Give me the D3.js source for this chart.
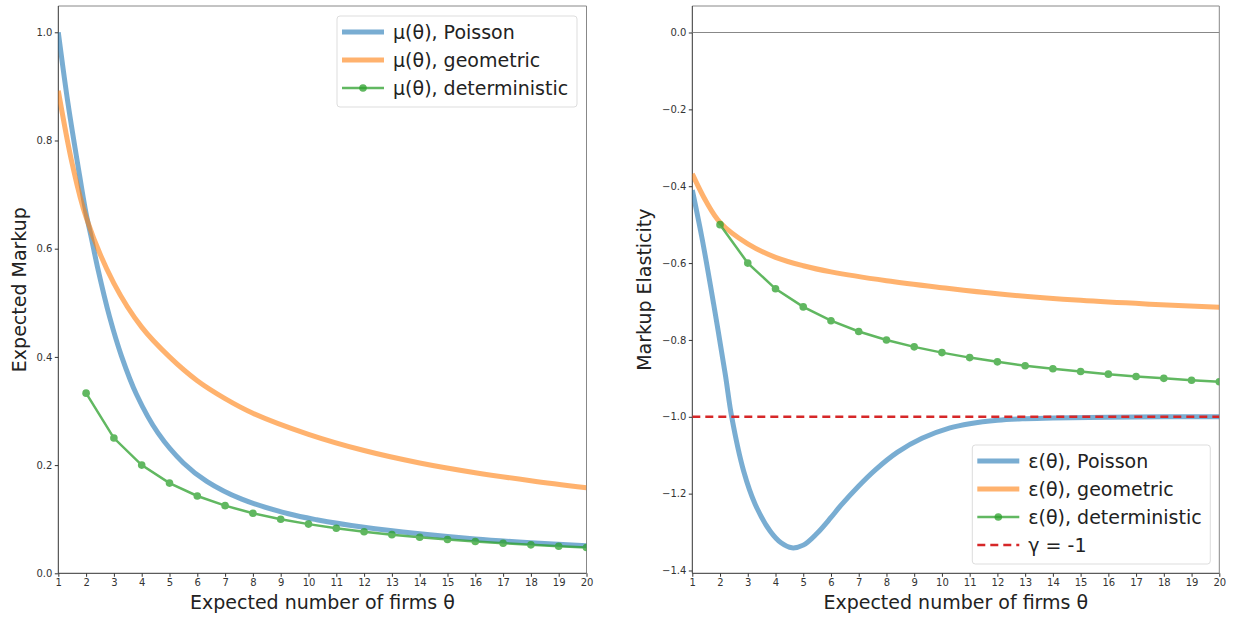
<!DOCTYPE html>
<html>
<head>
<meta charset="utf-8">
<script src="https://cdn.jsdelivr.net/npm/d3@7"></script>
<style>
  body { margin: 0; background: #fff; }
  svg { display: block; font-family: "DejaVu Sans", sans-serif; }
</style>
</head>
<body>
<div id="chart"></div>
<script>
// values
const thetaDet = [2, 3, 4, 5, 6, 7, 8, 9, 10, 11, 12, 13, 14, 15, 16, 17, 18, 19, 20];
const muDet = [0.333, 0.25, 0.2, 0.1667, 0.1429, 0.125, 0.1111, 0.1, 0.0909, 0.0833, 0.0769, 0.0714, 0.0667, 0.0625, 0.0588, 0.0556, 0.0526, 0.05, 0.0476];
const epsDet = [-0.5, -0.6, -0.667, -0.714, -0.75, -0.778, -0.8, -0.818, -0.833, -0.846, -0.857, -0.867, -0.875, -0.882, -0.889, -0.895, -0.9, -0.905, -0.909];

const thetaPoisMu = [1, 1.35, 1.77, 2, 2.19, 2.41, 2.85, 3.27, 3.81, 4.59, 5.5, 6.34, 7.6, 9.28, 10.29, 12, 14, 16, 18, 20];
const muPois = [1.0, 0.868, 0.734, 0.665, 0.62, 0.566, 0.473, 0.402, 0.331, 0.259, 0.204, 0.17, 0.137, 0.11, 0.099, 0.085, 0.073, 0.0635, 0.0565, 0.051];

const thetaGeoMu = [1, 1.5, 2, 3, 4, 5, 6, 7, 8, 10, 12, 14, 16, 18, 20];
const muGeo = [0.892, 0.757, 0.658, 0.536, 0.455, 0.40, 0.356, 0.323, 0.296, 0.257, 0.227, 0.204, 0.186, 0.171, 0.158];

const thetaPoisEps = [1, 1.35, 1.77, 2.19, 2.42, 2.85, 3.27, 3.81, 4.2, 4.59, 5.0, 5.5, 6.0, 6.34, 7.0, 7.6, 8.4, 9.28, 10.29, 11, 12, 13, 14, 16, 18, 20];
const epsPois = [-0.41, -0.535, -0.707, -0.89, -1.0, -1.141, -1.228, -1.298, -1.328, -1.341, -1.334, -1.303, -1.262, -1.232, -1.18, -1.138, -1.092, -1.056, -1.029, -1.018, -1.009, -1.005, -1.003, -1.001, -1.0, -1.0];

const thetaGeoEps = [1, 1.5, 2, 3, 4, 5, 6, 8, 10, 12, 15, 17.5, 20];
const epsGeo = [-0.368, -0.44, -0.494, -0.55, -0.585, -0.607, -0.623, -0.646, -0.664, -0.68, -0.697, -0.707, -0.715];

const xTicks = d3.range(1, 21);
const muTicks = [0, 0.2, 0.4, 0.6, 0.8, 1.0];
const epsTicks = [0, -0.2, -0.4, -0.6, -0.8, -1.0, -1.2, -1.4];
const gamma = -1;

const legendMu = ["μ(θ), Poisson", "μ(θ), geometric", "μ(θ), deterministic"];
const legendEps = ["ε(θ), Poisson", "ε(θ), geometric", "ε(θ), deterministic", "γ = -1"];

const W = 1233, H = 618;
const blue = "#1f77b4", orange = "#ff7f0e", green = "#2ca02c", red = "#d62728";

const svg = d3.select("#chart").append("svg")
    .attr("width", W)
    .attr("height", H);

const plotTop = 6, plotBottom = 573.3;

function panel(left, right, yDomain, yTicks, yFmt, yLabel, yLabelX) {
    const g = svg.append("g");
    const x = d3.scaleLinear().domain([1, 20]).range([left, right]);
    const y = d3.scaleLinear().domain(yDomain).range([plotBottom, plotTop]);

    const clip = "clip" + Math.round(left);
    svg.append("clipPath").attr("id", clip)
        .append("rect").attr("x", left).attr("y", plotTop)
        .attr("width", right - left).attr("height", plotBottom - plotTop);

    const xAxis = g.append("g")
        .attr("transform", `translate(0,${plotBottom})`)
        .call(d3.axisBottom(x).tickValues(xTicks).tickFormat(d3.format("d")).tickSizeOuter(0).tickSize(3.5));
    const yAxis = g.append("g")
        .attr("transform", `translate(${left},0)`)
        .call(d3.axisLeft(y).tickValues(yTicks).tickFormat(yFmt).tickSizeOuter(0).tickSize(3.5));
    [xAxis, yAxis].forEach(a => {
        a.select(".domain").remove();
        a.selectAll("line").attr("stroke", "#333");
        a.selectAll("text").attr("fill", "#333").attr("font-size", "10px")
            .attr("font-family", "DejaVu Sans");
    });
    xAxis.selectAll("text").attr("dy", "0.9em").attr("y", 4);
    yAxis.selectAll("text").attr("x", -6);

    // frame
    g.append("line").attr("x1", left).attr("x2", right).attr("y1", plotTop).attr("y2", plotTop).attr("stroke", "#888");
    g.append("line").attr("x1", right).attr("x2", right).attr("y1", plotTop).attr("y2", plotBottom).attr("stroke", "#888");
    g.append("line").attr("x1", left).attr("x2", left).attr("y1", plotTop).attr("y2", plotBottom).attr("stroke", "#333");
    g.append("line").attr("x1", left).attr("x2", right).attr("y1", plotBottom).attr("y2", plotBottom).attr("stroke", "#333");

    g.append("text")
        .attr("x", (left + right) / 2).attr("y", 609)
        .attr("text-anchor", "middle").attr("font-size", "19px").attr("fill", "#222")
        .text("Expected number of firms θ");
    g.append("text")
        .attr("transform", `translate(${yLabelX},${(plotTop + plotBottom) / 2}) rotate(-90)`)
        .attr("text-anchor", "middle").attr("font-size", "19px").attr("fill", "#222")
        .text(yLabel);

    const plot = svg.append("g").attr("clip-path", `url(#${clip})`);
    return { x, y, plot };
}

function drawCurve(p, xs, ys, color, width, opacity) {
    const line = d3.line().x(d => p.x(d[0])).y(d => p.y(d[1])).curve(d3.curveCatmullRom.alpha(0.5));
    p.plot.append("path")
        .datum(d3.zip(xs, ys))
        .attr("d", line)
        .attr("fill", "none")
        .attr("stroke", color)
        .attr("stroke-width", width)
        .attr("stroke-opacity", opacity)
        .attr("stroke-linejoin", "round");
}

function drawDots(p, xs, ys) {
    const g = p.plot.append("g").attr("opacity", 0.75);
    g.append("path")
        .datum(d3.zip(xs, ys))
        .attr("d", d3.line().x(d => p.x(d[0])).y(d => p.y(d[1])))
        .attr("fill", "none").attr("stroke", green).attr("stroke-width", 2.5);
    g.selectAll("circle").data(d3.zip(xs, ys)).enter().append("circle")
        .attr("cx", d => p.x(d[0])).attr("cy", d => p.y(d[1]))
        .attr("r", 3.8).attr("fill", green);
}

function legend(x0, y0, w, h, labels, styles) {
    const g = svg.append("g");
    g.append("rect").attr("x", x0).attr("y", y0).attr("width", w).attr("height", h)
        .attr("rx", 3).attr("fill", "#fff").attr("fill-opacity", 0.8)
        .attr("stroke", "#ddd");
    labels.forEach((lab, i) => {
        const cy = y0 + 16 + i * 28;
        const s = styles[i];
        const ln = g.append("line").attr("x1", x0 + 5).attr("x2", x0 + 47)
            .attr("y1", cy).attr("y2", cy)
            .attr("stroke", s.color).attr("stroke-width", s.width)
            .attr("stroke-opacity", s.opacity);
        if (s.dash) ln.attr("stroke-dasharray", s.dash);
        if (s.dot) g.append("circle").attr("cx", x0 + 26).attr("cy", cy).attr("r", 3.8)
            .attr("fill", s.color).attr("fill-opacity", s.opacity);
        g.append("text").attr("x", x0 + 56).attr("y", cy).attr("dy", "0.35em")
            .attr("font-size", "19px").attr("fill", "#222").text(lab);
    });
}

const styles = [
    { color: blue, width: 5, opacity: 0.6 },
    { color: orange, width: 5, opacity: 0.6 },
    { color: green, width: 2.5, opacity: 0.75, dot: true },
    { color: red, width: 2.5, opacity: 1, dash: "8,5" }
];

// left panel: markups
const pL = panel(58.3, 586.5, [0, 1.0486], muTicks, d3.format(".1f"), "Expected Markup", 26);
drawCurve(pL, thetaPoisMu, muPois, blue, 5, 0.6);
drawCurve(pL, thetaGeoMu, muGeo, orange, 5, 0.6);
drawDots(pL, thetaDet, muDet);
legend(337, 16, 240, 91, legendMu, styles);

// right panel: elasticities
const pR = panel(692.3, 1219.3, [-1.4073, 0.069], epsTicks, d => d3.format(".1f")(d).replace("-", "−"), "Markup Elasticity", 651);
pR.plot.append("line")
    .attr("x1", pR.x(1)).attr("x2", pR.x(20))
    .attr("y1", pR.y(0)).attr("y2", pR.y(0))
    .attr("stroke", "#888").attr("stroke-width", 1.2);
drawCurve(pR, thetaPoisEps, epsPois, blue, 5, 0.6);
drawCurve(pR, thetaGeoEps, epsGeo, orange, 5, 0.6);
drawDots(pR, thetaDet, epsDet);
pR.plot.append("line")
    .attr("x1", pR.x(1)).attr("x2", pR.x(20))
    .attr("y1", pR.y(gamma)).attr("y2", pR.y(gamma))
    .attr("stroke", red).attr("stroke-width", 2.5).attr("stroke-dasharray", "8,5");
legend(972.3, 445, 238, 119, legendEps, styles);
</script>
</body>
</html>
